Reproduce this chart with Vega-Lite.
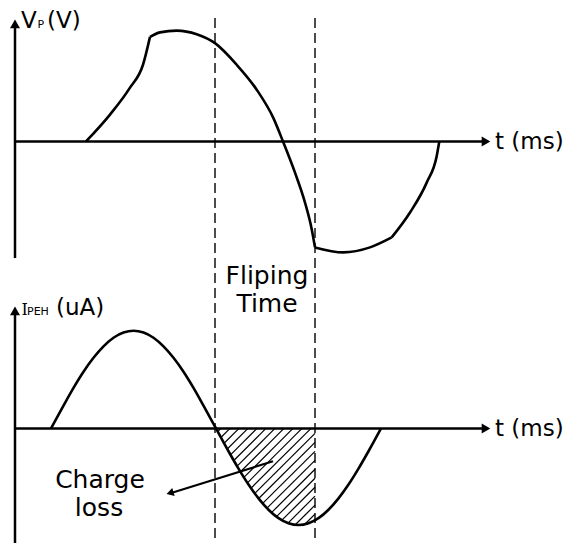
{
"$schema": "https://vega.github.io/schema/vega-lite/v6.json",
"width": 570, "height": 545,
"autosize": {"type": "fit", "contains": "padding"},
"padding": 0,
"background": "white",
"config": {"view": {"stroke": null}},
"datasets": {
"axes": [
{"x": 15, "y": 27, "x2": 15, "y2": 259},
{"x": 15, "y": 142, "x2": 483, "y2": 142},
{"x": 15, "y": 315, "x2": 15, "y2": 545},
{"x": 15, "y": 430, "x2": 483, "y2": 430}
],
"dashes": [
{"x": 215, "y": 18, "x2": 215, "y2": 545},
{"x": 315, "y": 18, "x2": 315, "y2": 545}
],
"arrowsUp": [{"x": 15, "y": 24}, {"x": 15, "y": 312}],
"arrowsRight": [{"x": 486, "y": 142}, {"x": 486, "y": 430}],
"curves": [
{"seg": "A", "o": 1, "x": 86, "y": 142},
{"seg": "A", "o": 2, "x": 110, "y": 115},
{"seg": "A", "o": 3, "x": 130, "y": 88},
{"seg": "A", "o": 4, "x": 143, "y": 65},
{"seg": "A", "o": 5, "x": 150, "y": 37},
{"seg": "B", "o": 1, "x": 150, "y": 37},
{"seg": "B", "o": 2, "x": 160, "y": 32.5},
{"seg": "B", "o": 3, "x": 176.7, "y": 30.7},
{"seg": "B", "o": 4, "x": 196.7, "y": 34.3},
{"seg": "B", "o": 5, "x": 215, "y": 43.3},
{"seg": "B", "o": 6, "x": 236.7, "y": 65},
{"seg": "B", "o": 7, "x": 256.7, "y": 90},
{"seg": "B", "o": 8, "x": 273.3, "y": 118.3},
{"seg": "B", "o": 9, "x": 283, "y": 142},
{"seg": "B", "o": 10, "x": 295, "y": 173.3},
{"seg": "B", "o": 11, "x": 305, "y": 203.3},
{"seg": "B", "o": 12, "x": 311.7, "y": 230},
{"seg": "B", "o": 13, "x": 315, "y": 248.3},
{"seg": "C", "o": 1, "x": 315, "y": 248.3},
{"seg": "C", "o": 2, "x": 343.3, "y": 253.3},
{"seg": "C", "o": 3, "x": 370, "y": 248.3},
{"seg": "C", "o": 4, "x": 391.7, "y": 238.3},
{"seg": "D", "o": 1, "x": 391.7, "y": 238.3},
{"seg": "D", "o": 2, "x": 410, "y": 213.3},
{"seg": "D", "o": 3, "x": 426.7, "y": 183.3},
{"seg": "D", "o": 4, "x": 436.7, "y": 156.7},
{"seg": "D", "o": 5, "x": 439.3, "y": 142},
{"seg": "E", "o": 1, "x": 51, "y": 430},
{"seg": "E", "o": 2, "x": 63.5, "y": 407.1},
{"seg": "E", "o": 3, "x": 73.5, "y": 389.3},
{"seg": "E", "o": 4, "x": 83.5, "y": 373.1},
{"seg": "E", "o": 5, "x": 93.5, "y": 359.1},
{"seg": "E", "o": 6, "x": 103.5, "y": 347.6},
{"seg": "E", "o": 7, "x": 113.5, "y": 339.0},
{"seg": "E", "o": 8, "x": 123.5, "y": 333.8},
{"seg": "E", "o": 9, "x": 133.5, "y": 332},
{"seg": "E", "o": 10, "x": 143.5, "y": 333.8},
{"seg": "E", "o": 11, "x": 153.5, "y": 339.0},
{"seg": "E", "o": 12, "x": 163.5, "y": 347.6},
{"seg": "E", "o": 13, "x": 173.5, "y": 359.1},
{"seg": "E", "o": 14, "x": 183.5, "y": 373.1},
{"seg": "E", "o": 15, "x": 193.5, "y": 389.3},
{"seg": "E", "o": 16, "x": 203.5, "y": 407.1},
{"seg": "E", "o": 17, "x": 216, "y": 430},
{"seg": "E", "o": 18, "x": 228.5, "y": 452.9},
{"seg": "E", "o": 19, "x": 238.5, "y": 470.3},
{"seg": "E", "o": 20, "x": 248.5, "y": 486.3},
{"seg": "E", "o": 21, "x": 258.5, "y": 500.2},
{"seg": "E", "o": 22, "x": 268.5, "y": 511.6},
{"seg": "E", "o": 23, "x": 278.5, "y": 520.1},
{"seg": "E", "o": 24, "x": 288.5, "y": 525.2},
{"seg": "E", "o": 25, "x": 298.5, "y": 527},
{"seg": "E", "o": 26, "x": 308.5, "y": 525.2},
{"seg": "E", "o": 27, "x": 318.5, "y": 520.1},
{"seg": "E", "o": 28, "x": 328.5, "y": 511.6},
{"seg": "E", "o": 29, "x": 338.5, "y": 500.2},
{"seg": "E", "o": 30, "x": 348.5, "y": 486.3},
{"seg": "E", "o": 31, "x": 358.5, "y": 470.3},
{"seg": "E", "o": 32, "x": 368.5, "y": 452.9},
{"seg": "E", "o": 33, "x": 381, "y": 430}
],
"hatch": [
{"x": 217.8, "y": 433.2, "x2": 221, "y2": 430},
{"x": 220.9, "y": 439.1, "x2": 230, "y2": 430},
{"x": 224.1, "y": 444.9, "x2": 239, "y2": 430},
{"x": 227.3, "y": 450.7, "x2": 248, "y2": 430},
{"x": 230.5, "y": 456.5, "x2": 257, "y2": 430},
{"x": 233.8, "y": 462.2, "x2": 266, "y2": 430},
{"x": 237.1, "y": 467.9, "x2": 275, "y2": 430},
{"x": 240.5, "y": 473.5, "x2": 284, "y2": 430},
{"x": 243.9, "y": 479.1, "x2": 293, "y2": 430},
{"x": 247.4, "y": 484.6, "x2": 302, "y2": 430},
{"x": 251.0, "y": 490.0, "x2": 311, "y2": 430},
{"x": 254.8, "y": 495.2, "x2": 315, "y2": 435},
{"x": 258.7, "y": 500.3, "x2": 315, "y2": 444},
{"x": 262.7, "y": 505.3, "x2": 315, "y2": 453},
{"x": 267.0, "y": 510.0, "x2": 315, "y2": 462},
{"x": 271.5, "y": 514.5, "x2": 315, "y2": 471},
{"x": 276.5, "y": 518.5, "x2": 315, "y2": 480},
{"x": 281.9, "y": 522.1, "x2": 315, "y2": 489},
{"x": 288.0, "y": 525.0, "x2": 315, "y2": 498},
{"x": 295.3, "y": 526.7, "x2": 315, "y2": 507},
{"x": 304.8, "y": 526.2, "x2": 315, "y2": 516}
],
"pointer": [{"x": 273, "y": 463, "x2": 172, "y2": 494.5}],
"pointerHead": [{"x": 170, "y": 494.8}],
"labelsBig": [
{"t": "V", "x": 21, "y": 28.5},
{"t": "(V)", "x": 47, "y": 28.5}
],
"labelsMid": [
{"t": "(uA)", "x": 56, "y": 316}
],
"labelsSub": [
{"t": "P", "x": 37.5, "y": 28.5},
{"t": "PEH", "x": 27, "y": 316}
],
"labelsSerif": [
{"t": "I", "x": 21.5, "y": 316}
],
"labelsAxis": [
{"t": "t (ms)", "x": 495, "y": 150},
{"t": "t (ms)", "x": 495, "y": 438}
],
"labelsCenter": [
{"t": "Fliping", "x": 267, "y": 285},
{"t": "Time", "x": 267, "y": 313},
{"t": "Charge", "x": 100, "y": 490},
{"t": "loss", "x": 99, "y": 518}
]
},
"encoding": {
"x": {"field": "x", "type": "quantitative", "scale": {"domain": [0, 570], "nice": false, "zero": false}, "axis": null},
"y": {"field": "y", "type": "quantitative", "scale": {"domain": [0, 545], "nice": false, "zero": false, "reverse": true}, "axis": null}
},
"layer": [
{"data": {"name": "hatch"}, "mark": {"type": "rule", "stroke": "black", "strokeWidth": 1.2},
 "encoding": {"x2": {"field": "x2"}, "y2": {"field": "y2"}}},
{"data": {"name": "dashes"}, "mark": {"type": "rule", "stroke": "black", "strokeWidth": 1.4, "strokeDash": [10, 5]},
 "encoding": {"x2": {"field": "x2"}, "y2": {"field": "y2"}}},
{"data": {"name": "axes"}, "mark": {"type": "rule", "stroke": "black", "strokeWidth": 2.5},
 "encoding": {"x2": {"field": "x2"}, "y2": {"field": "y2"}}},
{"data": {"name": "curves"}, "mark": {"type": "line", "stroke": "black", "strokeWidth": 2.6, "interpolate": "monotone"},
 "encoding": {"detail": {"field": "seg"}, "order": {"field": "o", "type": "quantitative"}}},
{"data": {"name": "pointer"}, "mark": {"type": "rule", "stroke": "black", "strokeWidth": 2.2},
 "encoding": {"x2": {"field": "x2"}, "y2": {"field": "y2"}}},
{"data": {"name": "pointerHead"}, "mark": {"type": "point", "shape": "triangle-up", "filled": true, "color": "black", "opacity": 1, "size": 70, "angle": 253}},
{"data": {"name": "arrowsUp"}, "mark": {"type": "point", "shape": "triangle-up", "filled": true, "color": "black", "opacity": 1, "size": 100}},
{"data": {"name": "arrowsRight"}, "mark": {"type": "point", "shape": "triangle-right", "filled": true, "color": "black", "opacity": 1, "size": 100}},
{"data": {"name": "labelsBig"}, "mark": {"type": "text", "align": "left", "baseline": "alphabetic", "font": "DejaVu Sans", "fontSize": 23, "color": "black"},
 "encoding": {"text": {"field": "t"}}},
{"data": {"name": "labelsMid"}, "mark": {"type": "text", "align": "left", "baseline": "alphabetic", "font": "DejaVu Sans", "fontSize": 23, "color": "black"},
 "encoding": {"text": {"field": "t"}}},
{"data": {"name": "labelsSub"}, "mark": {"type": "text", "align": "left", "baseline": "alphabetic", "font": "DejaVu Sans", "fontSize": 11, "color": "black"},
 "encoding": {"text": {"field": "t"}}},
{"data": {"name": "labelsSerif"}, "mark": {"type": "text", "align": "left", "baseline": "alphabetic", "font": "DejaVu Serif", "fontSize": 16, "color": "black"},
 "encoding": {"text": {"field": "t"}}},
{"data": {"name": "labelsAxis"}, "mark": {"type": "text", "align": "left", "baseline": "alphabetic", "font": "DejaVu Sans", "fontSize": 23, "color": "black"},
 "encoding": {"text": {"field": "t"}}},
{"data": {"name": "labelsCenter"}, "mark": {"type": "text", "align": "center", "baseline": "alphabetic", "font": "DejaVu Sans", "fontSize": 25, "color": "black"},
 "encoding": {"text": {"field": "t"}}}
]
}
